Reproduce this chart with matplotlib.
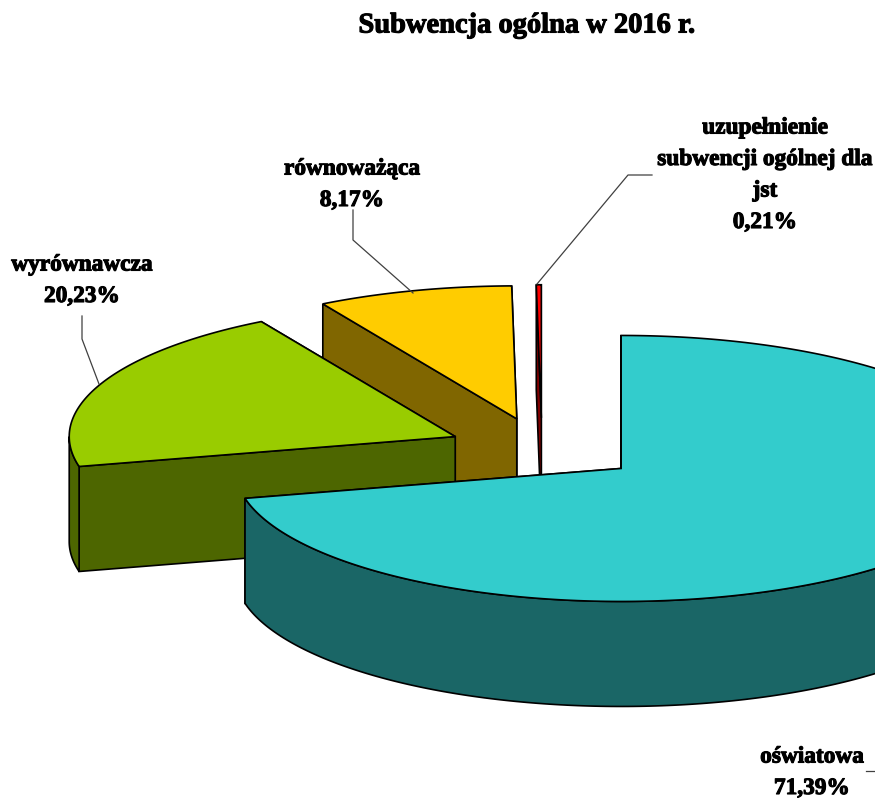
"""
Subwencja ogolna w 2016 r. - exploded 3D pie, drawn by hand from the shares.
"""

import numpy as np
import matplotlib
matplotlib.use('Agg')
import matplotlib.pyplot as plt
import matplotlib.patheffects as pe
from matplotlib.patches import Polygon

# Data, clockwise from 12 o'clock
NAMES = ['oświatowa', 'wyrównawcza', 'równoważąca', 'uzupełnienie\nsubwencji ogólnej dla\njst']
SHARES = [71.39, 20.23, 8.17, 0.21]
TOP_COLORS = ['#33CCCC', '#99CC00', '#FFCC00', '#FF0000']
SIDE_COLORS = ['#1A6666', '#4D6600', '#806600', '#800000']
TITLE = 'Subwencja ogólna w 2016 r.'

# Pie geometry in pixels
CENTER_X, CENTER_Y = 542, 449
RADIUS_X, RADIUS_Y = 386, 133
DEPTH = 105
EXPLODE_X = [0.262, 0.245, 0.245, 0.245]
EXPLODE_Y = 0.235

# Label centre (x, y of first line) and leader polyline per slice
LABEL_POS = [(812, 757), (82, 265), (352, 169), (765, 128)]
LEADERS = [
    [(866, 771), (875, 771)],
    [(82, 316), (82, 339), (99, 384)],
    [(353, 210), (353, 240), (413, 293)],
    [(652, 175), (628, 175), (537, 284)],
]


def rim(theta):
    """Point offsets on the pie ellipse; theta in degrees clockwise from top."""
    t = np.radians(theta)
    return RADIUS_X * np.sin(t), -RADIUS_Y * np.cos(t)


def add_poly(ax, xs, ys, color):
    ax.add_patch(Polygon(np.column_stack([xs, ys]), closed=True, facecolor=color,
                         edgecolor='black', linewidth=1.2, joinstyle='miter'))


def draw_slice(ax, start, end, explode_x, top_color, side_color):
    mid = (start + end) / 2
    dx, dy = rim(mid)
    ax_x = CENTER_X + explode_x * dx
    ax_y = CENTER_Y + EXPLODE_Y * dy

    # Radial walls, the far one first
    for angle in (end, start):
        rx, ry = rim(angle)
        add_poly(ax,
                 [ax_x, ax_x + rx, ax_x + rx, ax_x],
                 [ax_y, ax_y + ry, ax_y + ry + DEPTH, ax_y + DEPTH],
                 side_color)

    # Outer side, only the half of the rim that faces the viewer
    lo, hi = max(start, 90), min(end, 270)
    if lo < hi:
        arc = np.linspace(lo, hi, 200)
        rx, ry = rim(arc)
        add_poly(ax,
                 np.r_[ax_x + rx, ax_x + rx[::-1]],
                 np.r_[ax_y + ry, ax_y + ry[::-1] + DEPTH],
                 side_color)

    # Top face
    arc = np.linspace(start, end, 300)
    rx, ry = rim(arc)
    add_poly(ax, np.r_[ax_x, ax_x + rx], np.r_[ax_y, ax_y + ry], top_color)


def main():
    plt.rcParams['font.family'] = ['Liberation Serif', 'DejaVu Serif']

    fig = plt.figure(figsize=(8.75, 7.98), dpi=100)
    ax = fig.add_axes([0, 0, 1, 1])
    ax.set_xlim(0, 875)
    ax.set_ylim(798, 0)
    ax.axis('off')

    angles = np.cumsum([0] + SHARES) / sum(SHARES) * 360

    # Back to front so the big slice hides the feet of the others
    for i in reversed(range(len(SHARES))):
        draw_slice(ax, angles[i], angles[i + 1], EXPLODE_X[i], TOP_COLORS[i], SIDE_COLORS[i])

    for points in LEADERS:
        xs, ys = zip(*points)
        ax.plot(xs, ys, color='#404040', linewidth=0.9)

    # The original text is heavy and smeared, a thin stroke gets it closer
    heavy = [pe.withStroke(linewidth=0.8, foreground='black')]

    ax.text(527, 26, TITLE, ha='center', va='center', fontsize=20.5, fontweight='bold',
            path_effects=heavy)

    line_step = 31.5
    for name, share, (x, y) in zip(NAMES, SHARES, LABEL_POS):
        lines = name.split('\n') + [f'{share:.2f}%'.replace('.', ',')]
        for j, line in enumerate(lines):
            ax.text(x, y + j * line_step, line, ha='center', va='center',
                    fontsize=16.8, fontweight='bold', clip_on=True, path_effects=heavy)

    fig.savefig('out.png', dpi=100)
    plt.close(fig)


if __name__ == '__main__':
    main()
